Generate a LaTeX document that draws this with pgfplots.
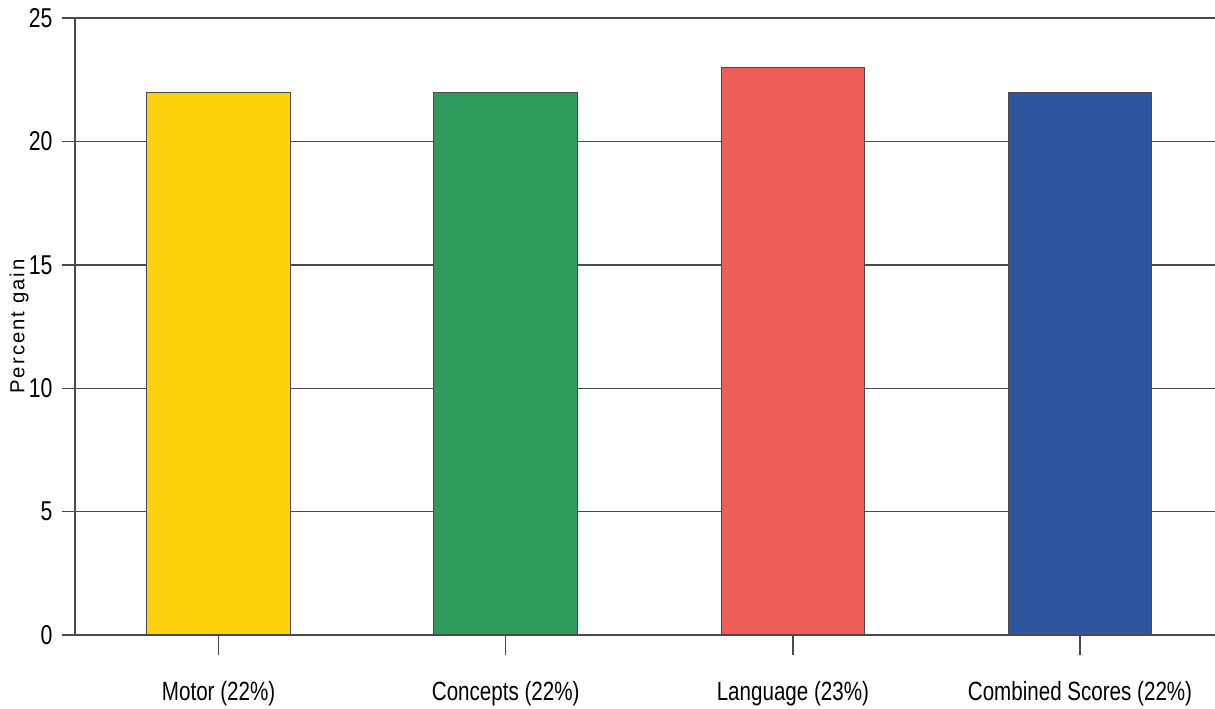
\documentclass[border=0pt]{standalone}
\usepackage{pgfplots}
\pgfplotsset{compat=1.18}
\usepackage{fontspec}
\setmainfont[FakeStretch=0.78]{Liberation Sans}
\newfontfamily\labelfont[LetterSpace=10]{Liberation Sans}
\definecolor{cyel}{HTML}{FDD20A}
\definecolor{cgrn}{HTML}{2E9A5C}
\definecolor{cred}{HTML}{EC5E55}
\definecolor{cblu}{HTML}{2E559F}
\definecolor{cline}{HTML}{4A4A4A}
\begin{document}
\begin{tikzpicture}
\begin{axis}[
  scale only axis, width=410.4pt, height=222.1pt,
  xmin=-0.5, xmax=3.47, ymin=0, ymax=25,
  axis x line*=bottom, axis y line*=left,
  axis line style={cline, line width=0.5pt},
  ytick={0,5,10,15,20,25},
  minor ytick={0,5,10,15,20,25},
  ymajorgrids, grid style={cline, line width=0.5pt},
  xtick={0,1,2,3},
  xticklabels={Motor (22\%), Concepts (22\%), Language (23\%), Combined Scores (22\%)},
  tick align=outside,
  major tick length=7.2pt,
  minor tick length=4.7pt,
  tick style={cline, line width=0.5pt},
  major y tick style={draw=none},
  tick label style={font=\fontsize{9.5}{11}\selectfont},
  yticklabel style={font=\fontsize{9.8}{12}\selectfont, xshift=2.6pt},
  xticklabel style={yshift=-6pt},
  ylabel={\labelfont\fontsize{7.3}{9}\selectfont Percent gain},
  ylabel style={yshift=-6.8pt},
  /pgf/number format/assume math mode=true,
  bar width=0.5,
]
\addplot[ybar, bar shift=0pt, fill=cyel, draw=cline, line width=0.4pt] coordinates {(0,22)};
\addplot[ybar, bar shift=0pt, fill=cgrn, draw=cline, line width=0.4pt] coordinates {(1,22)};
\addplot[ybar, bar shift=0pt, fill=cred, draw=cline, line width=0.4pt] coordinates {(2,23)};
\addplot[ybar, bar shift=0pt, fill=cblu, draw=cline, line width=0.4pt] coordinates {(3,22)};
\end{axis}
\pgfresetboundingbox
\path ([xshift=-27pt,yshift=-26.6pt]current axis.south west) rectangle ([yshift=6.5pt]current axis.north east);
\end{tikzpicture}
\end{document}
